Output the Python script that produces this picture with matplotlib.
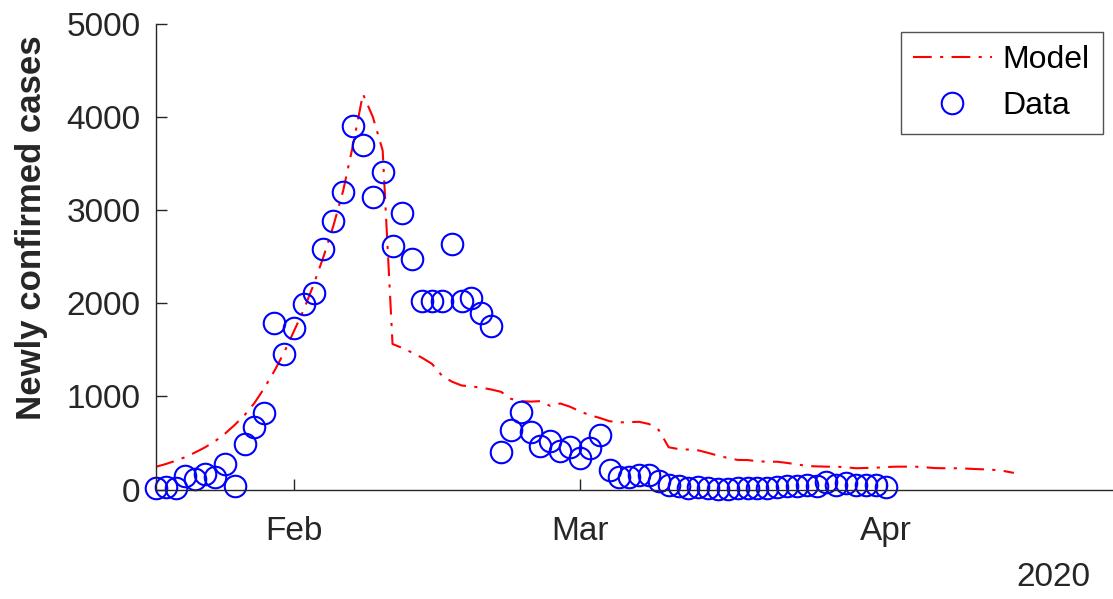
import matplotlib
matplotlib.use('Agg')
from matplotlib import pyplot as plt
import matplotlib.dates as mdates
import numpy as np
import pandas as pd

# reported daily cases, one value per day from 18 Jan
data_start = '2020-01-18'
data_cases = [15, 26, 15, 147, 111, 168, 140, 272, 40, 490, 669, 820, 1785, 1456,
              1735, 1996, 2107, 2586, 2880, 3197, 3902, 3698, 3144, 3412, 2618, 2969,
              2475, 2021, 2021, 2021, 2636, 2021, 2053, 1892, 1756, 401, 640, 830, 616,
              472, 519, 415, 455,
              337, 447, 584, 211, 140, 133, 161, 154, 97, 50, 40,
              19, 24, 15, 8, 11, 20, 16, 21, 13, 34, 39, 41, 46, 39, 78, 47, 67, 55,
              54, 45, 31]

# model output, daily from 18 Jan to 14 Apr
model_start = '2020-01-18'
model_cases = [245, 275, 310, 350, 400, 455, 520, 600, 695, 800, 930, 1090, 1270, 1470,
               1700, 1930, 2200, 2500, 2830, 3210, 3700, 4245, 4000, 3640, 1563, 1520,
               1470, 1415, 1350, 1225, 1160, 1118, 1107, 1095, 1075, 1050, 975, 950, 945,
               950, 898, 925, 890,
               840, 800, 770, 735, 722, 725, 728, 705, 640, 455, 436, 430, 422, 395, 365,
               340, 319, 318, 305, 300, 300, 287, 272, 254, 250, 247, 247, 240, 230, 233,
               236,
               242, 247, 247, 247, 240, 232, 230, 230, 227, 222, 218, 212, 200, 180]

data_dates = pd.date_range(data_start, periods=len(data_cases), freq='D')
model_dates = pd.date_range(model_start, periods=len(model_cases), freq='D')

plt.rcParams['font.family'] = ['Liberation Sans', 'DejaVu Sans']
cinza = '#262626'

fig = plt.figure(figsize=(11.13, 5.99), dpi=100)
ax = fig.add_axes([0.140, 0.1825, 0.860, 0.778])

ax.plot(model_dates, model_cases, color='red', lw=1.5, dashes=(9, 4, 1.5, 4), label='Model')
ax.plot(data_dates, data_cases, 'o', mfc='none', mec='blue', ms=15.5, mew=1.5,
        label='Data', clip_on=False)

ax.set_xlim(pd.Timestamp('2020-01-18'), pd.Timestamp('2020-01-18') + pd.Timedelta(days=97.05))
ax.set_ylim(0, 5000)
ax.set_yticks([0, 1000, 2000, 3000, 4000, 5000])
ax.xaxis.set_major_locator(mdates.MonthLocator(bymonth=[2, 3, 4]))
ax.xaxis.set_major_formatter(mdates.DateFormatter('%b'))

for lado in ['top', 'right']:
    ax.spines[lado].set_visible(False)
for lado in ['left', 'bottom']:
    ax.spines[lado].set_color(cinza)
    ax.spines[lado].set_linewidth(1.0)
ax.tick_params(direction='in', length=8, width=1.0, colors=cinza, labelsize=24)
ax.tick_params(axis='x', pad=19)
ax.tick_params(axis='y', pad=11)

ax.set_ylabel('Newly confirmed cases', fontsize=25, fontweight='bold', color=cinza)
ax.yaxis.set_label_coords(-0.113, 0.5627)
fig.text(1090 / 1113, 1 - 578 / 599, '2020', fontsize=24, color=cinza, ha='right', va='center')

leg = ax.legend(loc='upper right', bbox_to_anchor=(1102.7 / 1113, 1 - 32.3 / 599),
                bbox_transform=fig.transFigure, borderaxespad=0, fontsize=23,
                frameon=True, fancybox=False, handlelength=2.45, borderpad=0.4,
                labelspacing=0.49, handletextpad=0.35)
leg.get_frame().set_edgecolor(cinza)
leg.get_frame().set_linewidth(1.0)

plt.savefig('out.png', dpi=100)
